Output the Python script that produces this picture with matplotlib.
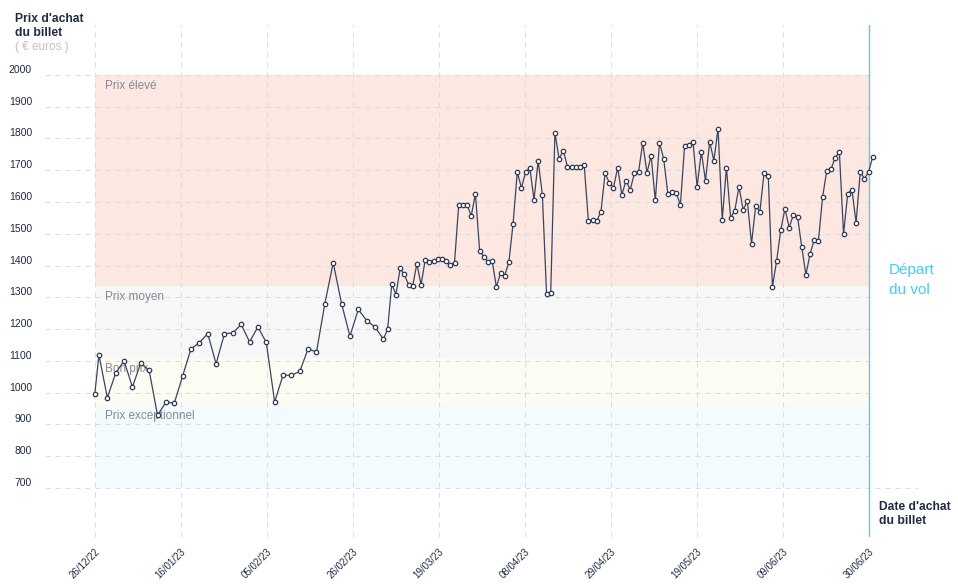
import numpy as np
import pandas as pd
import matplotlib
matplotlib.use('Agg')
import matplotlib.pyplot as plt

plt.rcParams['font.family'] = ['Liberation Sans', 'DejaVu Sans']

# prix relevés (tous les 2 jours au début, puis chaque jour)
prix_debut = [996, 1119, 984, 1062, 1100, 1018, 1094, 1070, 929, 970,
              967, 1053, 1138, 1157, 1186, 1091, 1186, 1188, 1215, 1160,
              1207, 1158, 971, 1055, 1055, 1067, 1138, 1128, 1280, 1409,
              1280, 1178, 1262, 1227, 1207]
prix_jour = [1168, 1200,
             1341, 1309, 1391, 1372, 1340, 1336, 1406, 1340, 1418, 1412,
             1416, 1420, 1420, 1415, 1402, 1409, 1591, 1591, 1591, 1557,
             1626, 1447, 1428, 1412, 1415, 1333, 1376, 1368, 1412, 1532,
             1694, 1645, 1694, 1708, 1607, 1730, 1623, 1311, 1314, 1818,
             1736, 1762, 1711, 1711, 1711, 1711, 1716, 1541, 1545, 1541,
             1569, 1690, 1661, 1645, 1708, 1623, 1667, 1639, 1690, 1695,
             1787, 1692, 1746, 1605, 1787,
             1736, 1626, 1632, 1629, 1591, 1777, 1780, 1790, 1648, 1758,
             1667, 1790, 1730, 1831, 1544, 1708, 1551, 1573, 1648, 1576,
             1602, 1469, 1588, 1569, 1692, 1683, 1333, 1415, 1513, 1579,
             1519, 1560, 1554, 1459, 1371, 1437, 1481, 1478, 1617, 1699,
             1703, 1740, 1758, 1500, 1626, 1639, 1535, 1695, 1673, 1695,
             1743]

debut = pd.Timestamp('2022-12-26')
dates_debut = [debut, pd.Timestamp('2022-12-27')] + list(pd.date_range('2022-12-29', '2023-03-03', freq='2D'))
dates_jour = list(pd.date_range('2023-03-05', '2023-06-30', freq='D'))

tick_labels = ['26/12/22', '16/01/23', '05/02/23', '26/02/23', '19/03/23',
               '08/04/23', '29/04/23', '19/05/23', '09/06/23', '30/06/23']

# zones de prix : (bas, haut, couleur, libellé)
zones = [(1335, 2000, '#fde7e1', 'Prix élevé'),
         (1110, 1335, '#f7f7f8', 'Prix moyen'),
         (961, 1110, '#fcfcf3', 'Bon prix'),
         (700, 961, '#f3fbfe', 'Prix exceptionnel')]
y_ticks = [700, 800, 900, 1000, 1100, 1200, 1300, 1400, 1500, 1600, 1700, 1800, 1900, 2000]

dates = dates_debut + dates_jour
prix = prix_debut + prix_jour
x = np.array([(d - debut).days for d in dates])
depart = 185
tick_pos = np.linspace(0, depart, len(tick_labels))

W, H = 958, 585
fig = plt.figure(figsize=(W / 100, H / 100), dpi=100)
ax = fig.add_axes([45 / W, 48 / H, 873 / W, 512 / H])
ax.set_xlim(-11.9, 196.8)
ax.set_ylim(546, 2157)
for s in ax.spines.values():
    s.set_visible(False)

grid_col = '#dcdcdc'
dash = (0, (4.8, 4.8))

# zones colorées
for lo, hi, col, lab in zones:
    ax.fill_between([0, depart], lo, hi, color=col, lw=0, zorder=0)
    ax.annotate(lab, xy=(0, hi), xytext=(10, -11), textcoords='offset pixels',
                ha='left', va='center', fontsize=8.5, color='#858a99', zorder=1)

# grille horizontale
for v in y_ticks:
    xmax = 196.8 if v == 700 else depart
    ax.hlines(v, -11.9, xmax, colors=grid_col, linestyles=dash, lw=0.75, zorder=0.5)
    ax.annotate(str(v), xy=(0, v), xycoords=('axes fraction', 'data'),
                xytext=(-13, 5), textcoords='offset pixels',
                ha='right', va='center', fontsize=7.5, color='#1f2a44')

# grille verticale
for p in tick_pos[:-1]:
    ax.axvline(p, color=grid_col, ls=dash, lw=0.75, zorder=0.5)
ax.axvline(depart, color='#5bc9ec', lw=1, zorder=1)

ax.plot(x, prix, color='#3a4560', lw=0.9, marker='o', ms=3.2,
        mfc='white', mec='#2e3a55', mew=0.9, zorder=3)

ax.set_yticks([])
ax.set_xticks(tick_pos)
ax.set_xticklabels(tick_labels, rotation=45, ha='right', rotation_mode='anchor',
                   fontsize=7, color='#1f2a44')
ax.tick_params(axis='x', length=0, pad=7)

navy = '#1f2a44'
fig.text(15 / W, 1 - 19 / H, "Prix d'achat", fontsize=8.7, fontweight='bold', color=navy, va='center')
fig.text(15 / W, 1 - 33 / H, "du billet", fontsize=8.7, fontweight='bold', color=navy, va='center')
fig.text(15 / W, 1 - 47 / H, "( € euros )", fontsize=8.5, color='#c0c0c0', va='center')
fig.text(879 / W, 1 - 507 / H, "Date d'achat", fontsize=8.7, fontweight='bold', color=navy, va='center')
fig.text(879 / W, 1 - 521 / H, "du billet", fontsize=8.7, fontweight='bold', color=navy, va='center')
fig.text(889 / W, 1 - 270 / H, "Départ", fontsize=11, color='#41cdf5', va='center')
fig.text(889 / W, 1 - 290 / H, "du vol", fontsize=11, color='#41cdf5', va='center')

fig.savefig('out.png', dpi=100)
